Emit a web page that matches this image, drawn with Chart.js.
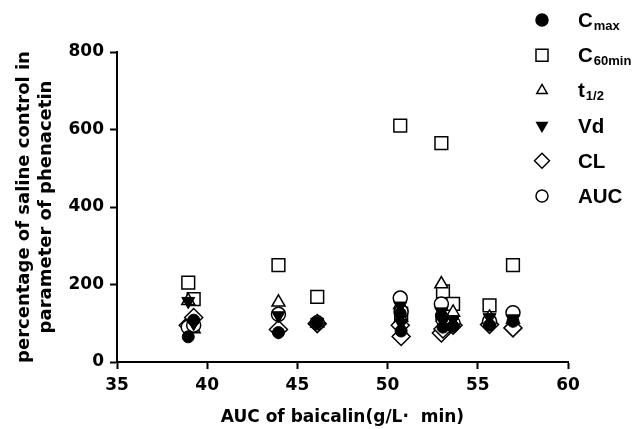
<!DOCTYPE html>
<html>
<head>
<meta charset="utf-8">
<script src="https://cdn.jsdelivr.net/npm/chart.js@4.4.0/dist/chart.umd.min.js"></script>
<style>
  html, body { margin: 0; padding: 0; background: #fff; }
</style>
</head>
<body>
<canvas id="myChart" width="641" height="429"></canvas>
<script>
const canvas = document.getElementById('myChart')
let myChart

// AUC of baicalin for each animal (x), then the parameters (% of saline control)
const baicalinAuc = [38.95, 39.25, 43.95, 46.1, 50.7, 50.75, 52.98, 53.07, 53.63, 55.65, 56.95]
const cmax     = [65, 108, 76, 101, 125, 80, 120, 90, 92, 95, 105]
const c60min   = [205, 162, 250, 168, 610, 125, 565, 182, 150, 146, 250]
const tHalf    = [158, 85, 154, 100, 148, 115, 201, 115, 128, 115, 110]
const vd       = [157, 100, 120, 103, 145, 100, 130, 105, 110, 115, 112]
const cl       = [95, 115, 84, 99, 95, 66, 75, 85, 95, 97, 88]
const auc      = [90, 95, 123, 101, 165, 130, 150, 110, 100, 105, 127]

const xTicks = [35, 40, 45, 50, 55, 60]
const yTicks = [0, 200, 400, 600, 800]

function pts(values) {
    return baicalinAuc.map((x, i) => ({x: x, y: values[i]}))
}

const series = [
    {main: 'C', sub: 'max', data: cmax, style: 'circle', radius: 6, rotation: 0, filled: true, order: 0},
    {main: 'C', sub: '60min', data: c60min, style: 'rect', radius: 9, rotation: 0, filled: false, order: 5},
    {main: 't', sub: '1/2', data: tHalf, style: 'triangle', radius: 7.5, rotation: 0, filled: false, order: 4},
    {main: 'Vd', sub: '', data: vd, style: 'triangle', radius: 7.5, rotation: 180, filled: true, order: 1},
    {main: 'CL', sub: '', data: cl, style: 'rectRot', radius: 9, rotation: 0, filled: false, order: 3},
    {main: 'AUC', sub: '', data: auc, style: 'circle', radius: 7, rotation: 0, filled: false, order: 2}
]

// legend with subscripts, drawn by hand
const subLegend = {
    id: 'subLegend',
    afterDraw(chart) {
        const ctx = chart.ctx
        ctx.save()
        series.forEach((s, i) => {
            const y = 20 + i * 35.2
            ctx.fillStyle = s.filled ? '#000' : '#fff'
            ctx.strokeStyle = '#000'
            ctx.lineWidth = 1.5
            Chart.helpers.drawPoint(ctx, {
                pointStyle: s.style,
                radius: s.style === 'rect' ? 8.5 : (s.style === 'rectRot' ? 7.5 : 6),
                rotation: s.rotation,
                borderWidth: 1.5
            }, 542, y)
            ctx.fillStyle = '#000'
            ctx.textBaseline = 'alphabetic'
            ctx.textAlign = 'left'
            ctx.font = 'bold 20.5px "Liberation Sans", Arial, sans-serif'
            ctx.fillText(s.main, 578, y + 7)
            if (s.sub) {
                const w = ctx.measureText(s.main).width
                ctx.font = 'bold 13px "Liberation Sans", Arial, sans-serif'
                ctx.fillText(s.sub, 578 + w + 1, y + 10)
            }
        })
        ctx.restore()
    }
}

function createChart() {
    const axisFont = {family: 'DejaVu Sans', weight: 'bold', size: 17}
    const config = {
        type: 'scatter',
        data: {
            datasets: series.map(s => ({
                label: s.main + s.sub,
                data: pts(s.data),
                pointStyle: s.style,
                pointRadius: s.radius,
                pointHoverRadius: s.radius,
                rotation: s.rotation,
                backgroundColor: s.filled ? '#000' : '#fff',
                borderColor: '#000',
                borderWidth: s.filled ? 1 : 1.5,
                order: s.order
            }))
        },
        options: {
            responsive: false,
            animation: false,
            layout: {
                padding: {top: 52, right: 73, bottom: 0, left: 0}
            },
            plugins: {
                legend: {display: false},
                tooltip: {enabled: false}
            },
            scales: {
                x: {
                    type: 'linear',
                    min: xTicks[0],
                    max: xTicks[xTicks.length - 1],
                    afterBuildTicks: axis => { axis.ticks = xTicks.map(v => ({value: v})) },
                    afterFit: axis => { axis.height = 67 },
                    border: {display: true, color: '#000', width: 2},
                    grid: {drawOnChartArea: false, drawTicks: true, tickLength: 7, tickWidth: 2, tickColor: '#000'},
                    ticks: {color: '#000', font: axisFont, padding: 6, maxRotation: 0},
                    title: {
                        display: true,
                        text: 'AUC of baicalin(g/L\u00b7  min)',
                        color: '#000',
                        font: {family: 'DejaVu Sans', weight: 'bold', size: 17, lineHeight: 1.25},
                        padding: {top: 0, bottom: 1}
                    }
                },
                y: {
                    min: yTicks[0],
                    max: yTicks[yTicks.length - 1],
                    afterBuildTicks: axis => { axis.ticks = yTicks.map(v => ({value: v})) },
                    afterFit: axis => { axis.width = 117 },
                    border: {display: true, color: '#000', width: 2},
                    grid: {drawOnChartArea: false, drawTicks: true, tickLength: 7, tickWidth: 2, tickColor: '#000'},
                    ticks: {color: '#000', font: axisFont, padding: 6},
                    title: {
                        display: true,
                        text: ['percentage of saline control in', 'parameter of phenacetin'],
                        color: '#000',
                        font: {family: 'DejaVu Sans', weight: 'bold', size: 18, lineHeight: 1.25},
                        padding: {top: 13, bottom: 0}
                    }
                }
            }
        },
        plugins: [subLegend]
    }

    myChart = new Chart(canvas, config)
}

createChart()
</script>
</body>
</html>
